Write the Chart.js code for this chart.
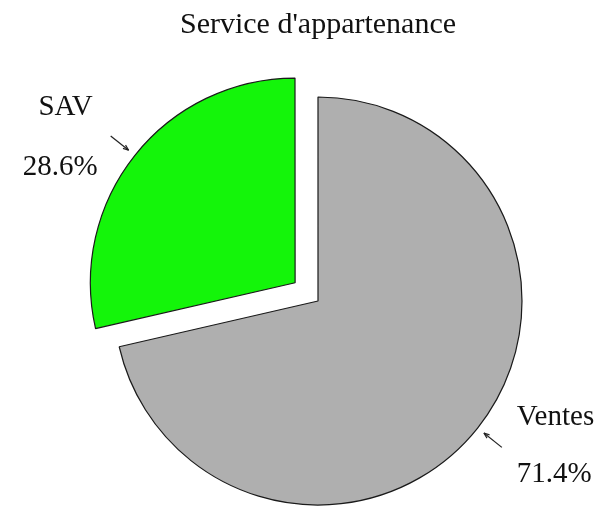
<!DOCTYPE html>
<html>
<head>
<meta charset="utf-8">
<script src="https://cdn.jsdelivr.net/npm/chart.js@4"></script>
<style>
  html, body { margin: 0; padding: 0; background: #fff; }
  #wrap { width: 602px; height: 509px; }
</style>
</head>
<body>
<div id="wrap"><canvas id="myChart" width="602" height="509"></canvas></div>
<script>
const services = ['Ventes', 'SAV'];
const service_values = [71.4, 28.6];
const service_colors = ['#afafaf', '#14f50a'];
const service_offsets = [0, 117];

const serif = "'Liberation Serif', 'Times New Roman', serif";

// labels + leader lines outside each slice
const outsideLabels = {
    id: 'outsideLabels',
    afterDraw(chart)
    {
        const ctx = chart.ctx;
        const meta = chart.getDatasetMeta(0);
        const total = service_values.reduce((a, b) => a + b, 0);
        ctx.save();
        ctx.font = '29px ' + serif;
        ctx.fillStyle = '#111';
        ctx.strokeStyle = '#222';
        ctx.lineWidth = 1.2;
        meta.data.forEach((arc, i) =>
        {
            const p = arc.getProps(['x', 'y', 'startAngle', 'endAngle', 'outerRadius', 'circumference']);
            const mid = (p.startAngle + p.endAngle) / 2;
            const off = (arc.options.offset || 0) / 4;
            const fix = 1 - Math.sin(Math.min(Math.PI, p.circumference));
            const shift = off + off * fix;
            const cx = p.x + Math.cos(mid) * shift;
            const cy = p.y + Math.sin(mid) * shift;
            const r1 = p.outerRadius + 8, r2 = p.outerRadius + 31;
            const x1 = cx + Math.cos(mid) * r1, y1 = cy + Math.sin(mid) * r1;
            const x2 = cx + Math.cos(mid) * r2, y2 = cy + Math.sin(mid) * r2;
            ctx.beginPath();
            ctx.moveTo(x1, y1);
            ctx.lineTo(x2, y2);
            ctx.stroke();
            // small arrow head toward the slice
            const a = Math.atan2(y1 - y2, x1 - x2);
            ctx.beginPath();
            ctx.moveTo(x1, y1);
            ctx.lineTo(x1 - 6 * Math.cos(a - 0.35), y1 - 6 * Math.sin(a - 0.35));
            ctx.moveTo(x1, y1);
            ctx.lineTo(x1 - 6 * Math.cos(a + 0.35), y1 - 6 * Math.sin(a + 0.35));
            ctx.stroke();

            const pct = (service_values[i] / total * 100).toFixed(1) + '%';
            ctx.textBaseline = 'alphabetic';
            if (Math.cos(mid) >= 0)
            {
                ctx.textAlign = 'left';
                ctx.fillText(chart.data.labels[i], x2 + 15, y2 - 22);
                ctx.fillText(pct, x2 + 15, y2 + 35);
            }
            else
            {
                ctx.textAlign = 'right';
                ctx.fillText(chart.data.labels[i], x2 - 18, y2 - 21);
                ctx.fillText(pct, x2 - 13, y2 + 39);
            }
        });
        ctx.restore();
    }
};

new Chart(document.getElementById('myChart'),
{
    type: 'pie',
    data:
    {
        labels: services,
        datasets:
        [
            {
                data: service_values,
                backgroundColor: service_colors,
                borderColor: '#1a1a1a',
                borderWidth: 1.2,
                offset: service_offsets,
                hoverOffset: 0
            }
        ]
    },
    options:
    {
        responsive: false,
        animation: false,
        events: [],
        radius: 204,
        layout:
        {
            padding: { top: 0, left: 34, right: 0, bottom: 0 }
        },
        plugins:
        {
            legend: { display: false },
            tooltip: { enabled: false },
            title:
            {
                display: true,
                text: "Service d'appartenance",
                color: '#111',
                font: { family: serif, size: 30, weight: 'normal', lineHeight: 1.2 },
                padding: { top: 7, bottom: 50 }
            }
        }
    },
    plugins: [outsideLabels]
});
</script>
</body>
</html>
